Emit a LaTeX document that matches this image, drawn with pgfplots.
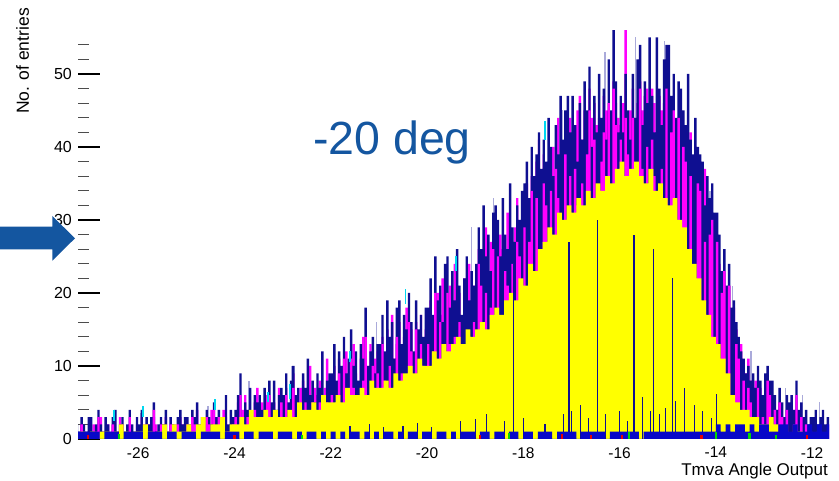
\documentclass[border=0pt]{standalone}
\usepackage{pgfplots}
\usepackage{pgfplotstable}
\usepackage{fontspec}
\setmainfont{Liberation Sans}
\pgfplotsset{compat=1.18}
\definecolor{navyh}{RGB}{15,15,145}
\definecolor{magh}{RGB}{255,0,255}
\definecolor{yelh}{RGB}{255,255,0}
\definecolor{blueh}{RGB}{8,8,200}
\definecolor{lavh}{RGB}{170,170,218}
\definecolor{cyanh}{RGB}{0,215,240}
\definecolor{redh}{RGB}{230,0,0}
\definecolor{greenh}{RGB}{0,215,0}
\definecolor{annot}{RGB}{20,86,160}

% navy histogram, bins of 0.05 starting at -27.30
\pgfplotstableread[row sep=\\]{
y\\
2\\1\\3\\2\\1\\3\\
3\\1\\2\\4\\2\\1\\3\\2\\0\\3\\4\\1\\2\\3\\1\\2\\4\\2\\1\\3\\
2\\4\\1\\3\\2\\3\\5\\1\\2\\3\\2\\4\\1\\3\\2\\1\\3\\4\\2\\3\\
3\\2\\4\\3\\5\\2\\3\\1\\4\\3\\2\\5\\3\\4\\2\\3\\6\\2\\4\\3\\
4\\6\\9\\3\\5\\4\\7\\3\\6\\5\\6\\4\\7\\3\\8\\5\\8\\4\\6\\7\\
6\\9\\5\\8\\10\\6\\7\\4\\9\\7\\11\\6\\8\\5\\9\\7\\12\\6\\8\\9\\
9\\13\\8\\12\\10\\14\\9\\11\\15\\10\\12\\8\\13\\11\\18\\10\\12\\14\\9\\13\\
13\\17\\12\\19\\14\\16\\11\\18\\19\\13\\17\\15\\20\\16\\12\\19\\15\\17\\14\\18\\
18\\22\\17\\25\\19\\21\\16\\24\\25\\18\\23\\19\\26\\21\\17\\22\\25\\19\\23\\21\\
24\\29\\26\\32\\25\\28\\23\\31\\32\\30\\25\\33\\28\\26\\35\\29\\27\\32\\30\\34\\
35\\38\\33\\40\\36\\39\\42\\37\\41\\38\\44\\40\\36\\43\\39\\47\\41\\45\\47\\42\\
47\\43\\38\\46\\41\\49\\45\\51\\40\\47\\42\\50\\44\\48\\41\\52\\45\\56\\49\\42\\
47\\42\\50\\45\\41\\50\\44\\52\\54\\43\\49\\46\\55\\47\\42\\55\\48\\43\\52\\54\\
54\\47\\50\\44\\49\\48\\45\\43\\50\\41\\39\\44\\40\\39\\38\\32\\36\\33\\35\\31\\
31\\28\\23\\26\\21\\24\\18\\19\\16\\14\\12\\11\\9\\10\\8\\9\\7\\10\\8\\6\\
9\\10\\8\\8\\6\\4\\7\\5\\3\\6\\5\\6\\4\\8\\4\\5\\3\\4\\2\\3\\
3\\4\\2\\3\\4\\2\\3\\2\\4\\3\\
3\\
}\navydata

% magenta histogram (drawn behind navy), bins of 0.05 starting at -27.30
\pgfplotstableread[row sep=\\]{
y\\
1\\0\\2\\1\\0\\1\\
1\\2\\0\\1\\3\\1\\0\\2\\1\\2\\0\\1\\3\\2\\0\\1\\2\\1\\0\\2\\
1\\3\\2\\0\\2\\1\\3\\2\\1\\0\\2\\3\\1\\2\\0\\2\\1\\3\\2\\1\\
2\\1\\3\\2\\4\\1\\2\\3\\2\\1\\4\\2\\3\\1\\2\\4\\3\\1\\2\\3\\
3\\5\\2\\4\\6\\3\\4\\2\\5\\7\\3\\5\\4\\6\\2\\4\\5\\3\\7\\4\\
5\\7\\4\\6\\9\\5\\3\\7\\8\\5\\6\\10\\4\\7\\6\\8\\5\\7\\11\\6\\
8\\10\\6\\11\\9\\7\\12\\8\\10\\13\\9\\7\\11\\14\\8\\10\\13\\9\\11\\12\\
11\\14\\10\\15\\12\\17\\11\\13\\16\\12\\14\\18\\12\\15\\10\\16\\13\\17\\12\\15\\
15\\19\\16\\13\\20\\17\\22\\15\\18\\21\\16\\24\\18\\20\\15\\22\\19\\24\\17\\21\\
22\\26\\21\\25\\29\\23\\27\\24\\30\\22\\28\\26\\24\\31\\27\\25\\29\\33\\26\\30\\
30\\35\\31\\36\\32\\38\\41\\35\\39\\34\\37\\33\\40\\36\\44\\35\\38\\41\\37\\44\\
40\\43\\45\\47\\41\\45\\42\\48\\44\\46\\43\\44\\41\\47\\45\\45\\43\\49\\46\\44\\
43\\46\\56\\44\\45\\48\\44\\46\\49\\45\\47\\48\\44\\48\\46\\42\\47\\45\\46\\49\\
46\\42\\45\\40\\44\\39\\43\\41\\38\\42\\37\\40\\36\\38\\34\\37\\31\\33\\30\\28\\
27\\24\\22\\20\\19\\21\\16\\18\\15\\12\\13\\10\\9\\11\\8\\7\\8\\6\\7\\5\\
6\\5\\4\\6\\3\\4\\5\\3\\2\\4\\3\\2\\4\\2\\3\\2\\1\\2\\1\\2\\
1\\2\\1\\2\\1\\1\\2\\1\\2\\1\\
1\\
}\magdata

% magenta histogram seen in front of navy, bins of 0.05 starting at -27.30
\pgfplotstableread[row sep=\\]{
y\\
0\\0\\2\\0\\0\\0\\
0\\0\\1\\3\\0\\0\\0\\0\\0\\2\\0\\0\\0\\2\\0\\0\\3\\0\\0\\0\\
0\\0\\0\\2\\0\\0\\4\\0\\0\\2\\0\\0\\0\\2\\0\\0\\2\\0\\0\\0\\
2\\0\\3\\2\\0\\1\\0\\0\\3\\2\\0\\4\\0\\3\\1\\0\\0\\1\\0\\2\\
3\\0\\6\\2\\0\\3\\0\\0\\4\\3\\0\\2\\0\\2\\6\\0\\0\\3\\0\\5\\
0\\6\\3\\0\\7\\0\\4\\2\\0\\5\\0\\0\\5\\3\\0\\5\\0\\4\\5\\0\\
6\\0\\5\\9\\0\\11\\0\\0\\11\\7\\0\\5\\0\\8\\14\\0\\0\\10\\0\\9\\
0\\13\\8\\0\\10\\0\\7\\14\\0\\9\\0\\0\\16\\12\\0\\15\\0\\13\\10\\0\\
13\\0\\12\\20\\0\\16\\0\\0\\20\\13\\0\\14\\0\\16\\12\\0\\0\\14\\0\\16\\
0\\24\\21\\0\\20\\0\\18\\26\\0\\25\\0\\0\\23\\21\\0\\24\\0\\27\\25\\0\\
29\\0\\27\\34\\0\\33\\0\\0\\35\\32\\0\\34\\0\\37\\33\\0\\0\\39\\0\\36\\
0\\37\\32\\0\\35\\0\\39\\45\\0\\41\\0\\0\\38\\42\\0\\46\\0\\48\\43\\0\\
41\\0\\44\\39\\0\\44\\0\\0\\48\\37\\0\\40\\0\\41\\36\\0\\0\\37\\0\\48\\
0\\42\\45\\0\\44\\0\\40\\38\\0\\36\\0\\0\\35\\34\\0\\27\\0\\28\\30\\0\\
27\\0\\20\\23\\0\\21\\0\\0\\13\\11\\0\\8\\0\\7\\5\\0\\0\\7\\0\\3\\
0\\8\\6\\0\\4\\0\\5\\3\\0\\4\\0\\0\\2\\6\\0\\3\\0\\2\\0\\0\\
0\\0\\0\\0\\0\\0\\0\\0\\0\\0\\
0\\
}\magfront

% yellow histogram, bins of 0.1 starting at -27.3
\pgfplotstableread[row sep=\\]{
y\\
0\\1\\0\\
1\\0\\1\\1\\0\\1\\2\\1\\0\\1\\
1\\2\\1\\0\\1\\2\\1\\2\\1\\1\\
2\\1\\2\\3\\1\\2\\2\\3\\1\\2\\
2\\3\\2\\4\\3\\3\\4\\3\\4\\3\\
3\\4\\3\\5\\4\\4\\5\\4\\6\\5\\
5\\6\\5\\7\\6\\6\\7\\6\\8\\7\\
7\\8\\7\\9\\8\\9\\10\\9\\11\\10\\
10\\12\\11\\13\\12\\13\\14\\13\\15\\14\\
15\\16\\15\\17\\18\\17\\19\\20\\19\\22\\
21\\24\\23\\26\\27\\29\\28\\31\\30\\32\\
31\\33\\32\\34\\33\\35\\34\\36\\35\\37\\
38\\36\\37\\38\\36\\35\\37\\34\\35\\33\\
32\\33\\30\\29\\26\\24\\22\\19\\17\\14\\
13\\11\\9\\6\\5\\4\\4\\3\\3\\2\\
2\\3\\2\\1\\1\\0\\1\\1\\0\\1\\
0\\1\\0\\0\\1\\
1\\
}\yeldata

% blue bottom band, bins of 0.1 starting at -27.3
\pgfplotstableread[row sep=\\]{
y\\
1\\1\\1\\
1\\1\\0\\1\\1\\1\\0\\1\\1\\1\\
1\\0\\1\\1\\1\\0\\1\\1\\0\\1\\
1\\1\\0\\1\\1\\1\\1\\0\\1\\1\\
1\\0\\1\\1\\0\\1\\1\\1\\0\\1\\
1\\1\\0\\1\\0\\1\\1\\0\\1\\0\\
1\\0\\1\\0\\1\\1\\0\\1\\0\\1\\
0\\1\\1\\0\\1\\0\\1\\1\\0\\1\\
1\\0\\1\\1\\0\\1\\0\\1\\1\\1\\
0\\1\\1\\0\\1\\1\\0\\1\\1\\0\\
1\\1\\0\\1\\1\\1\\0\\1\\1\\1\\
1\\0\\1\\1\\1\\1\\1\\0\\1\\1\\
1\\1\\1\\1\\0\\1\\1\\1\\1\\1\\
1\\1\\1\\1\\1\\1\\1\\1\\1\\1\\
2\\1\\2\\1\\2\\2\\1\\2\\1\\2\\
2\\1\\1\\2\\2\\1\\2\\1\\1\\2\\
1\\2\\1\\2\\1\\
1\\
}\banddata

\begin{document}
\begin{tikzpicture}
\useasboundingbox (0,0) rectangle (839pt,480pt);
\begin{axis}[
  at={(78pt,41pt)}, anchor=south west,
  scale only axis, width=751pt, height=423.4pt,
  xmin=-27.25, xmax=-11.65, ymin=0, ymax=58,
  axis x line*=bottom, axis y line*=left,
  x axis line style={draw=none}, y axis line style={draw=none},
  xtick={-26,-24,-22,-20,-18,-16,-14,-12},
  xticklabels={-26,-24,-22,-20,-18,-16,-14,-12},
  xtick style={draw=none},
  ytick={0,10,20,30,40,50},
  yticklabels={0,10,20,30,40,50},
  minor ytick={2,4,6,8,12,14,16,18,22,24,26,28,32,34,36,38,42,44,46,48,52,54},
  tick align=inside, major tick length=22pt, minor tick length=11pt,
  major tick style={black, line width=1.1pt},
  minor tick style={gray!60!black, line width=1pt},
  xticklabel style={font=\fontsize{15.5}{15.5}\selectfont, anchor=north, inner sep=0pt, yshift=-8pt},
  yticklabel style={font=\fontsize{16}{16}\selectfont, anchor=east, inner sep=0pt, xshift=-6pt},
  clip=true,
]
% light lavender spikes behind
\addplot[ycomb, lavh, line width=1.5pt, mark=none] coordinates {
(-26.8,3) (-25.95,3.5) (-24.55,4.5) (-23.7,8) (-22.8,10) (-22.47,11) (-21.05,16)
(-19.08,29) (-18.62,33) (-17.2,45) (-16.3,53) (-15.67,55) (-15.07,54.5)
(-14.38,40) (-14.12,34) (-13.65,21) (-13.27,12) (-12.55,7) (-12.2,6) (-11.85,5)};
% magenta (behind navy)
\addplot[const plot mark left, fill=magh, draw=none] table[x expr=\coordindex*0.05-27.3, y=y]{\magdata} \closedcycle;
% navy
\addplot[const plot mark left, fill=navyh, draw=none] table[x expr=\coordindex*0.05-27.3, y=y]{\navydata} \closedcycle;
% magenta in front of navy
\addplot[const plot mark left, fill=magh, draw=none] table[x expr=\coordindex*0.05-27.3, y=y]{\magfront} \closedcycle;
% cyan tips
\addplot[cyanh, line width=1.5pt, unbounded coords=jump, mark=none] coordinates {
(-17.55,41) (-17.55,43.5) (nan,nan)
(-22.85,5.5) (-22.85,7.5) (nan,nan)
(-23.3,5) (-23.3,6.5) (nan,nan)
(-24.4,4) (-24.4,5.5) (nan,nan)
(-25.9,3) (-25.9,4.5) (nan,nan)
(-20.45,18.5) (-20.45,20.5) (nan,nan)
(-19.4,23) (-19.4,25) (nan,nan)
(-21.6,10.5) (-21.6,12) (nan,nan)
(-26.5,2.5) (-26.5,4)};
% yellow
\addplot[const plot mark left, fill=yelh, draw=none] table[x expr=\coordindex*0.1-27.3, y=y]{\yeldata} \closedcycle;
% navy lines crossing yellow
\addplot[ycomb, navyh, line width=1.1pt, mark=none] coordinates {
(-21.6,1.8) (-21.2,2.0) (-20.9,1.6) (-20.5,1.8) (-20.2,2.2) (-19.9,1.7) (-19.3,2.4) (-19.0,2.8)
(-18.77,3.4) (-18.39,2.5) (-18.0,2.9) (-17.55,2.0) (-17.17,3.4) (-16.99,3.8) (-16.82,4.7)
(-16.64,2.9) (-16.29,3.4) (-16.01,3.8) (-15.84,2.5) (-15.52,5.7) (-15.35,3.8) (-15.18,3.4)
(-15.04,4.3) (-14.83,5.2) (-14.65,7.0) (-14.44,4.7) (-14.27,3.8) (-14.09,2.9) (-13.99,6.1)
(-18.2,24) (-17.05,27) (-16.45,30) (-15.7,28) (-15.3,26) (-14.9,22)};
% bottom blue band
\addplot[const plot mark left, fill=blueh, draw=none] table[x expr=\coordindex*0.1-27.3, y=y]{\banddata} \closedcycle;
% red and green bits
\addplot[ycomb, redh, line width=2.2pt, mark=none] coordinates {
(-27.05,0.6) (-24.0,0.6) (-17.2,0.7) (-16.6,0.6) (-15.95,0.6) (-14.3,0.6) (-12.1,0.6) (-18.9,0.5)};
\addplot[ycomb, greenh, line width=2.2pt, mark=none] coordinates {
(-26.4,0.7) (-22.6,0.6) (-18.3,0.8) (-15.8,0.9) (-14.0,0.9) (-13.3,0.8) (-12.75,0.6)};
\end{axis}
% annotations
\fill[annot] (0pt,253.3pt) -- (52.3pt,253.3pt) -- (52.3pt,264pt) -- (75pt,241.7pt)
  -- (52.3pt,219.3pt) -- (52.3pt,230.7pt) -- (0pt,230.7pt) -- cycle;
\node[anchor=base, inner sep=0pt, text=annot, font=\fontsize{46.5}{50}\selectfont] at (392pt,325pt) {-20 deg};
\node[rotate=90, anchor=east, inner sep=0pt, font=\fontsize{17.5}{18}\selectfont] at (22.5pt,472pt) {No. of entries};
\node[anchor=base east, inner sep=0pt, font=\fontsize{17}{18}\selectfont] at (828pt,4.5pt) {Tmva Angle Output};
\end{tikzpicture}
\end{document}
